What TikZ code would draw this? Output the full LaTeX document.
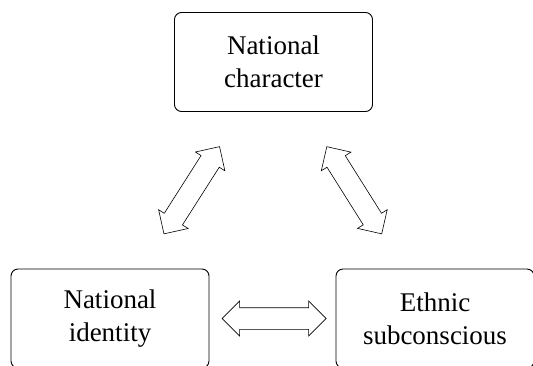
\documentclass[tikz,border=0pt]{standalone}
\usepackage{fontspec}
\setmainfont{Liberation Serif}
\usetikzlibrary{calc}

\newcommand{\blockarrow}[2]{%
	\coordinate (ha) at ($(#1)!17.5pt!(#2)$);
	\coordinate (hb) at ($(#2)!17.5pt!(#1)$);
	\draw[hollow] (#1)
		-- ($(ha)!17.5pt!90:(#2)$) -- ($(ha)!10.8pt!90:(#2)$)
		-- ($(hb)!10.8pt!-90:(#1)$) -- ($(hb)!17.5pt!-90:(#1)$)
		-- (#2)
		-- ($(hb)!17.5pt!90:(#1)$) -- ($(hb)!10.8pt!90:(#1)$)
		-- ($(ha)!10.8pt!-90:(#2)$) -- ($(ha)!17.5pt!-90:(#2)$)
		-- cycle;
}

\begin{document}
\begin{tikzpicture}[x=1pt,y=-1pt,
	conceptbox/.style={draw, line width=0.9pt, rounded corners=7pt, minimum width=198pt, minimum height=99pt, align=center, inner sep=0pt, font=\fontsize{27}{33}\selectfont, execute at begin node=\rule{0pt}{27pt}},
	hollow/.style={draw, line width=0.6pt, line join=miter}]
	\useasboundingbox (0,0) rectangle (533,365);

	\node[conceptbox] (char) at (273.5,62) {National\\character};
	\node[conceptbox] (ident) at (110,318.5) {National\\identity};
	\node[conceptbox] (subc) at (435,318.5) {Ethnic\\subconscious};

	\foreach \s/\t/\p/\q in {ident/char/.33/.67, subc/char/.33/.67, ident/subc/.345/.665}{
		\coordinate (\s-\t-1) at ($(\s)!\p!(\t)$);
		\coordinate (\s-\t-2) at ($(\s)!\q!(\t)$);
		\blockarrow{\s-\t-1}{\s-\t-2}
	}
\end{tikzpicture}
\end{document}
